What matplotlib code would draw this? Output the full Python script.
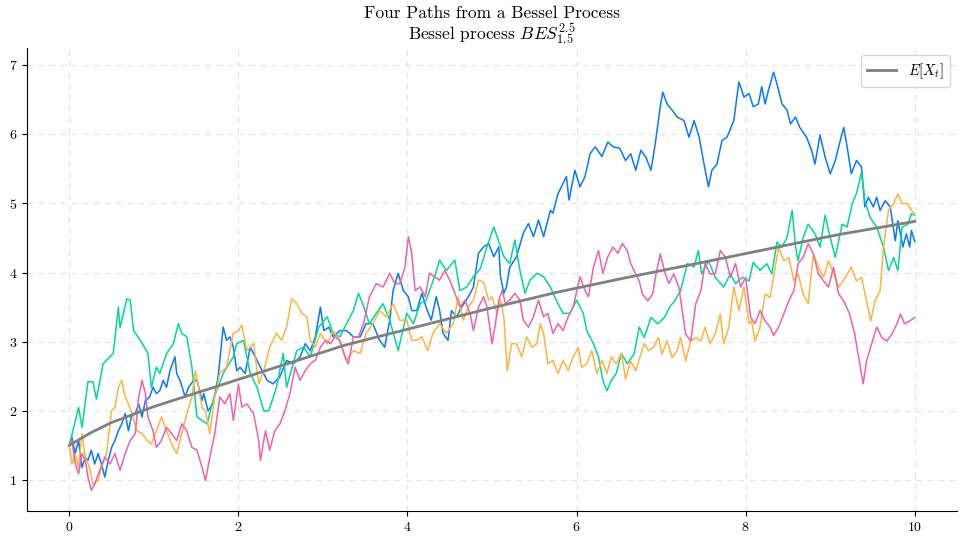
import matplotlib
matplotlib.use("Agg")
import matplotlib.pyplot as plt

plt.rcParams['font.family'] = 'serif'
plt.rcParams['font.serif'] = ['cmr10', 'DejaVu Serif']
plt.rcParams['mathtext.fontset'] = 'cm'
plt.rcParams['axes.unicode_minus'] = False
plt.rcParams['axes.formatter.use_mathtext'] = True

title = "Four Paths from a Bessel Process\nBessel process $BES^{2.5}_{1.5}$"
legend_label = "$E[X_t]$"

t_blue = [0, 0.03, 0.07, 0.11, 0.15, 0.19, 0.22, 0.26, 0.3, 0.34, 0.38, 0.42, 0.46, 0.5, 0.54, 0.58, 0.62, 0.66, 0.7, 0.74,
          0.78, 0.82, 0.86, 0.9, 0.95, 0.99, 1.03, 1.07, 1.11, 1.15, 1.19, 1.25, 1.27, 1.31, 1.37, 1.41, 1.47, 1.51, 1.57,
          1.59, 1.64, 1.7, 1.76, 1.82, 1.86, 1.9, 1.94, 1.98, 2.02, 2.08, 2.14, 2.2, 2.26, 2.34, 2.41, 2.49, 2.57, 2.65,
          2.73, 2.79, 2.85, 2.91, 2.97, 3.01, 3.07, 3.12, 3.2, 3.28, 3.36, 3.44, 3.51, 3.59, 3.67, 3.73, 3.79, 3.83, 3.89,
          3.95, 4.01, 4.05, 4.11, 4.17, 4.22, 4.28, 4.34, 4.38, 4.42, 4.48, 4.52, 4.58, 4.64, 4.72, 4.78, 4.84, 4.9, 4.96,
          5.02, 5.08, 5.1, 5.14, 5.17, 5.21, 5.29, 5.37, 5.43, 5.49, 5.55, 5.61, 5.69, 5.72, 5.78, 5.84, 5.88, 5.91, 5.98,
          6.04, 6.1, 6.16, 6.22, 6.3, 6.37, 6.43, 6.51, 6.58, 6.64, 6.7, 6.76, 6.82, 6.88, 6.93, 6.99, 7.02, 7.07, 7.13,
          7.19, 7.27, 7.33, 7.39, 7.45, 7.5, 7.56, 7.6, 7.66, 7.72, 7.78, 7.86, 7.92, 7.98, 8.04, 8.09, 8.15, 8.19, 8.23,
          8.27, 8.33, 8.37, 8.43, 8.49, 8.53, 8.59, 8.64, 8.72, 8.78, 8.82, 8.88, 8.94, 9.0, 9.06, 9.1, 9.16, 9.2, 9.25,
          9.31, 9.37, 9.41, 9.45, 9.51, 9.55, 9.59, 9.65, 9.71, 9.77, 9.8, 9.86, 9.9, 9.94, 9.96, 10]
v_blue = [1.5, 1.62, 1.38, 1.57, 1.18, 1.33, 1.28, 1.43, 1.23, 1.38, 1.23, 1.04, 1.28, 1.47, 1.57, 1.71, 1.81, 1.96, 1.71, 1.96,
          1.96, 2.1, 1.91, 2.15, 2.2, 2.34, 2.25, 2.29, 2.44, 2.34, 2.58, 2.78, 2.54, 2.44, 2.2, 2.34, 2.44, 2.44, 2.15,
          2.25, 2.0, 2.1, 2.49, 3.21, 3.02, 3.07, 2.92, 2.58, 2.63, 2.54, 2.92, 2.78, 2.63, 2.44, 2.39, 2.49, 2.73, 2.68,
          2.78, 2.97, 2.87, 3.07, 3.5, 3.16, 3.21, 3.07, 3.16, 3.16, 3.07, 3.07, 3.26, 3.26, 3.02, 2.92, 3.31, 3.74, 3.99,
          3.74, 3.65, 3.45, 3.45, 3.7, 3.5, 3.31, 3.65, 3.45, 3.12, 3.02, 3.45, 3.36, 3.5, 3.65, 3.79, 4.28, 4.37, 4.42,
          4.23, 4.37, 3.94, 3.7, 3.79, 4.08, 4.23, 4.57, 4.71, 4.52, 4.76, 4.52, 4.9, 4.86, 5.14, 5.29, 5.39, 5.05, 5.48,
          5.24, 5.39, 5.72, 5.82, 5.68, 5.89, 5.82, 5.8, 5.62, 5.72, 5.48, 5.77, 5.67, 5.48, 5.86, 6.4, 6.61, 6.44, 6.35,
          6.25, 6.2, 5.96, 6.2, 5.96, 5.62, 5.24, 5.48, 5.57, 5.91, 5.96, 6.2, 6.76, 6.54, 6.59, 6.4, 6.44, 6.69, 6.44,
          6.64, 6.9, 6.73, 6.44, 6.35, 6.15, 6.25, 6.1, 5.96, 5.77, 5.57, 5.99, 5.67, 5.43, 5.62, 5.82, 6.1, 5.82, 5.43,
          5.62, 5.53, 4.95, 5.09, 4.95, 5.09, 4.9, 5.04, 4.95, 4.46, 4.75, 4.37, 4.56, 4.37, 4.61, 4.45]

t_green = [0, 0.11, 0.15, 0.22, 0.28, 0.32, 0.4, 0.52, 0.58, 0.6, 0.68, 0.72, 0.76, 0.84, 0.93, 0.97, 1.03, 1.07, 1.15, 1.23,
           1.29, 1.33, 1.39, 1.45, 1.51, 1.57, 1.63, 1.7, 1.82, 1.94, 1.98, 2.06, 2.14, 2.22, 2.3, 2.36, 2.45, 2.53, 2.57,
           2.69, 2.77, 2.85, 2.95, 3.05, 3.12, 3.2, 3.28, 3.36, 3.42, 3.47, 3.55, 3.63, 3.71, 3.79, 3.89, 3.99, 4.07, 4.15,
           4.22, 4.32, 4.38, 4.46, 4.56, 4.62, 4.7, 4.78, 4.86, 4.94, 5.02, 5.06, 5.14, 5.21, 5.27, 5.33, 5.39, 5.45, 5.53,
           5.61, 5.69, 5.76, 5.84, 5.92, 6.0, 6.08, 6.12, 6.2, 6.26, 6.31, 6.36, 6.41, 6.47, 6.53, 6.6, 6.68, 6.74, 6.8,
           6.88, 6.96, 7.04, 7.1, 7.16, 7.23, 7.31, 7.39, 7.44, 7.48, 7.56, 7.64, 7.74, 7.82, 7.88, 7.96, 8.04, 8.09, 8.17,
           8.25, 8.31, 8.37, 8.43, 8.49, 8.55, 8.59, 8.62, 8.68, 8.74, 8.82, 8.88, 8.94, 9.0, 9.06, 9.14, 9.2, 9.26, 9.31,
           9.37, 9.41, 9.47, 9.55, 9.63, 9.69, 9.75, 9.8, 9.85, 9.92, 9.96, 10]
v_green = [1.5, 2.05, 1.76, 2.42, 2.42, 2.17, 2.68, 2.83, 3.5, 3.2, 3.62, 3.6, 3.16, 3.02, 2.83, 2.34, 2.63, 2.54, 2.83, 2.97,
           3.26, 3.12, 3.07, 2.63, 1.91, 1.86, 1.81, 2.15, 2.54, 2.78, 2.97, 3.02, 2.54, 2.34, 2.0, 2.0, 2.34, 2.83, 2.34,
           2.87, 2.92, 2.78, 3.21, 3.36, 3.12, 3.07, 3.26, 3.45, 3.7, 3.55, 3.26, 3.41, 3.55, 3.31, 2.87, 3.41, 3.26, 3.55,
           3.6, 3.94, 4.18, 4.03, 4.18, 3.74, 3.79, 3.94, 4.05, 4.37, 4.66, 4.52, 4.23, 4.13, 4.47, 4.03, 3.7, 3.89, 3.99,
           3.94, 3.79, 3.6, 3.41, 3.41, 3.6, 3.41, 3.16, 2.97, 2.78, 2.44, 2.29, 2.44, 2.54, 2.83, 2.68, 2.82, 3.21, 3.06,
           3.35, 3.26, 3.35, 3.5, 3.59, 3.74, 4.13, 4.08, 4.32, 3.98, 4.17, 3.93, 3.79, 3.98, 3.84, 3.93, 3.88, 4.15, 4.03,
           4.13, 3.98, 4.44, 4.37, 4.51, 4.9, 4.37, 4.17, 4.51, 4.7, 4.56, 4.37, 4.83, 4.51, 4.22, 4.7, 4.66, 5.0, 5.14,
           5.45, 5.04, 4.8, 4.66, 4.37, 4.03, 4.22, 4.03, 4.66, 4.7, 4.85, 4.83]

t_orange = [0, 0.03, 0.07, 0.11, 0.15, 0.19, 0.24, 0.28, 0.34, 0.38, 0.44, 0.5, 0.54, 0.58, 0.62, 0.66, 0.7, 0.74, 0.8, 0.86,
            0.92, 0.97, 1.03, 1.09, 1.15, 1.21, 1.27, 1.33, 1.39, 1.45, 1.49, 1.53, 1.57, 1.61, 1.66, 1.72, 1.78, 1.86, 1.94,
            2.0, 2.04, 2.1, 2.18, 2.24, 2.3, 2.37, 2.45, 2.51, 2.57, 2.63, 2.69, 2.75, 2.81, 2.85, 2.91, 2.97, 3.05, 3.12,
            3.2, 3.28, 3.36, 3.44, 3.51, 3.59, 3.67, 3.75, 3.83, 3.91, 3.99, 4.05, 4.11, 4.17, 4.24, 4.3, 4.38, 4.46, 4.54,
            4.6, 4.66, 4.72, 4.78, 4.84, 4.9, 4.96, 5.0, 5.06, 5.1, 5.14, 5.18, 5.23, 5.29, 5.35, 5.41, 5.47, 5.53, 5.57,
            5.61, 5.66, 5.72, 5.78, 5.84, 5.9, 5.96, 6.02, 6.06, 6.12, 6.18, 6.24, 6.3, 6.36, 6.41, 6.47, 6.53, 6.58, 6.64,
            6.7, 6.76, 6.8, 6.85, 6.91, 6.97, 7.01, 7.07, 7.13, 7.19, 7.23, 7.29, 7.35, 7.41, 7.47, 7.52, 7.58, 7.64, 7.7,
            7.74, 7.8, 7.86, 7.92, 7.98, 8.04, 8.07, 8.11, 8.17, 8.23, 8.29, 8.35, 8.39, 8.45, 8.51, 8.57, 8.62, 8.68, 8.74,
            8.8, 8.86, 8.92, 8.98, 9.04, 9.1, 9.18, 9.25, 9.31, 9.37, 9.43, 9.48, 9.53, 9.59, 9.63, 9.69, 9.75, 9.8, 9.85,
            9.91, 9.96, 10]
v_orange = [1.5, 1.23, 1.38, 1.18, 1.67, 1.33, 1.18, 0.94, 0.99, 1.18, 1.38, 2.0, 2.05, 2.34, 2.44, 2.2, 2.1, 1.96, 1.71, 1.67,
            1.57, 1.52, 1.71, 1.91, 1.71, 1.52, 1.38, 1.67, 1.96, 2.2, 2.58, 2.34, 2.05, 2.0, 1.67, 2.2, 2.54, 2.63, 3.12,
            3.16, 3.24, 2.87, 2.97, 2.39, 2.58, 2.92, 3.12, 3.02, 3.21, 3.62, 3.55, 3.41, 3.36, 3.02, 2.92, 3.12, 2.97, 3.16,
            3.0, 2.73, 2.87, 2.83, 3.12, 3.26, 3.45, 3.36, 3.55, 3.31, 3.31, 3.02, 3.02, 3.07, 2.87, 3.12, 3.26, 3.12, 3.26,
            3.65, 3.31, 3.5, 3.6, 3.89, 3.86, 3.6, 3.65, 3.41, 3.6, 3.36, 2.58, 2.97, 2.97, 2.78, 3.07, 2.92, 2.97, 3.26,
            3.12, 2.68, 2.73, 2.54, 2.73, 2.58, 2.78, 2.92, 2.63, 2.68, 2.87, 2.54, 2.73, 2.54, 2.78, 2.68, 2.83, 2.46, 2.72,
            2.58, 2.82, 2.97, 2.87, 2.92, 3.06, 2.82, 3.01, 2.77, 2.87, 3.06, 2.72, 3.01, 3.06, 3.01, 3.21, 2.97, 3.11, 3.4,
            2.97, 3.21, 3.79, 3.45, 3.79, 3.26, 3.3, 3.01, 3.21, 3.69, 3.64, 4.08, 4.37, 4.17, 4.22, 3.88, 3.98, 3.69, 3.55,
            4.27, 4.08, 3.93, 4.17, 3.98, 3.79, 3.93, 4.08, 3.88, 3.93, 3.59, 3.3, 3.59, 3.74, 4.37, 4.9, 5.0, 5.14, 5.0,
            5.0, 4.9, 4.85]

t_pink = [0, 0.03, 0.07, 0.11, 0.15, 0.19, 0.22, 0.26, 0.3, 0.36, 0.42, 0.48, 0.54, 0.6, 0.66, 0.72, 0.78, 0.82, 0.86, 0.9,
          0.93, 0.99, 1.03, 1.09, 1.15, 1.21, 1.27, 1.33, 1.39, 1.45, 1.51, 1.57, 1.61, 1.64, 1.67, 1.72, 1.78, 1.84, 1.9,
          1.94, 2.0, 2.04, 2.1, 2.18, 2.24, 2.26, 2.32, 2.37, 2.43, 2.49, 2.55, 2.61, 2.67, 2.73, 2.79, 2.85, 2.91, 2.97,
          3.03, 3.09, 3.14, 3.2, 3.26, 3.3, 3.36, 3.42, 3.48, 3.55, 3.63, 3.71, 3.79, 3.85, 3.91, 3.97, 4.01, 4.05, 4.09,
          4.15, 4.21, 4.26, 4.32, 4.38, 4.44, 4.5, 4.56, 4.62, 4.68, 4.74, 4.78, 4.84, 4.9, 4.94, 5.0, 5.04, 5.08, 5.12,
          5.16, 5.21, 5.27, 5.33, 5.37, 5.43, 5.49, 5.55, 5.61, 5.66, 5.72, 5.78, 5.84, 5.9, 5.96, 6.04, 6.1, 6.14, 6.2,
          6.26, 6.31, 6.37, 6.43, 6.49, 6.54, 6.6, 6.64, 6.68, 6.74, 6.78, 6.84, 6.9, 6.94, 6.99, 7.05, 7.09, 7.15, 7.21,
          7.25, 7.29, 7.35, 7.41, 7.47, 7.52, 7.58, 7.64, 7.7, 7.76, 7.82, 7.88, 7.94, 8.0, 8.06, 8.11, 8.17, 8.23, 8.29,
          8.33, 8.39, 8.45, 8.51, 8.57, 8.62, 8.68, 8.74, 8.8, 8.86, 8.92, 8.98, 9.04, 9.1, 9.16, 9.23, 9.29, 9.33, 9.39,
          9.43, 9.49, 9.55, 9.61, 9.67, 9.73, 9.79, 9.83, 9.88, 9.94, 10]
v_pink = [1.5, 1.57, 1.23, 1.09, 1.38, 1.28, 1.04, 0.85, 0.94, 1.14, 1.33, 1.23, 1.38, 1.14, 1.38, 1.57, 1.67, 2.2, 2.44, 2.25,
          1.91, 1.71, 1.47, 1.57, 1.76, 1.67, 1.57, 1.81, 1.71, 1.47, 1.43, 1.18, 0.99, 1.18, 1.38, 1.67, 2.2, 2.1, 2.25,
          1.86, 2.39, 2.05, 2.1, 1.96, 1.57, 1.28, 1.71, 1.43, 1.71, 1.81, 2.0, 2.25, 2.63, 2.44, 2.58, 2.68, 2.73, 2.92,
          3.02, 2.97, 3.07, 3.02, 2.78, 2.68, 3.07, 3.07, 3.26, 3.65, 3.84, 3.79, 3.99, 3.84, 3.84, 4.08, 4.52, 4.28, 3.74,
          3.79, 3.65, 3.99, 3.94, 3.89, 4.03, 3.89, 3.7, 3.5, 3.6, 3.41, 3.16, 3.5, 3.65, 3.5, 2.97, 3.26, 3.6, 3.74,
          3.55, 3.6, 3.7, 3.6, 3.31, 3.21, 3.36, 3.6, 3.36, 3.41, 3.12, 3.26, 3.16, 3.36, 3.5, 3.94, 3.74, 3.65, 4.08,
          4.32, 3.99, 4.23, 4.37, 4.28, 4.42, 4.32, 4.13, 4.03, 3.88, 3.69, 3.59, 3.69, 3.98, 4.27, 3.98, 3.84, 3.98, 3.79,
          3.45, 3.11, 3.01, 3.55, 3.74, 4.13, 3.98, 3.98, 4.32, 4.22, 3.93, 4.13, 3.79, 3.93, 3.35, 3.26, 3.45, 3.3, 3.21,
          3.09, 3.21, 3.4, 3.59, 3.74, 4.13, 4.22, 4.42, 4.27, 3.98, 3.88, 3.79, 4.08, 3.69, 3.59, 3.4, 3.11, 2.82, 2.39,
          2.72, 2.97, 3.21, 3.06, 3.01, 3.11, 3.26, 3.4, 3.26, 3.3, 3.35]

t_mean = [0, 0.25, 0.5, 1.0, 1.66, 2.5, 3.26, 4.0, 4.9, 5.75, 6.6, 7.5, 8.3, 9.1, 10]
v_mean = [1.5, 1.68, 1.83, 2.06, 2.32, 2.65, 2.95, 3.18, 3.46, 3.71, 3.93, 4.15, 4.35, 4.55, 4.74]

series = [
    (t_blue, v_blue, "#0a78ff"),
    (t_green, v_green, "#00d99a"),
    (t_orange, v_orange, "#ffb340"),
    (t_pink, v_pink, "#f062aa"),
]

fig = plt.figure(figsize=(9.66, 5.44), dpi=100)
ax = fig.add_axes([0.028, 0.0607, 0.9627, 0.8511])

for tt, vv, c in series:
    ax.plot(tt, vv, color=c, lw=1.1)
ax.plot(t_mean, v_mean, color="gray", lw=2, label=legend_label)

ax.set_xlim(-0.5, 10.5)
ax.set_ylim(0.55, 7.25)
ax.set_xticks([0, 2, 4, 6, 8, 10])
ax.set_yticks([1, 2, 3, 4, 5, 6, 7])
ax.grid(True, ls=(0, (5, 5)), color="#e2e2ea", lw=0.8)
ax.spines['top'].set_visible(False)
ax.spines['right'].set_visible(False)
ax.tick_params(labelsize=10)
ax.set_title(title, fontsize=12.5, linespacing=1.0)
ax.legend(loc="upper right", fontsize=10.5)

fig.savefig("out.png", dpi=100)
